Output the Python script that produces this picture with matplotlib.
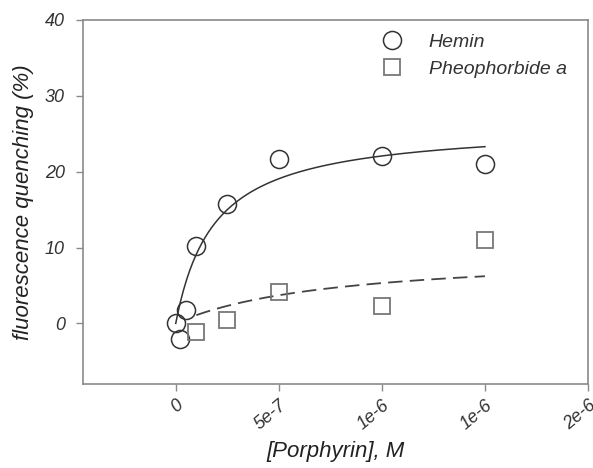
import matplotlib.pyplot as plt
import numpy as np

# data (x in M, y in %)
hemin_x = [0, 2e-8, 5e-8, 1e-7, 2.5e-7, 5e-7, 1e-6, 1.5e-6]
hemin_y = [0, -2.0, 1.8, 10.2, 15.8, 21.7, 22.1, 21.0]
pheo_x = [1e-7, 2.5e-7, 5e-7, 1e-6, 1.5e-6]
pheo_y = [-1.2, 0.5, 4.1, 2.3, 11.0]

# one-site binding fit parameters (Bmax, Kd)
hemin_fit = (26.2, 1.87e-7)
pheo_fit = (9.4, 7.7e-7)

xtick_pos = [0, 5e-7, 1e-6, 1.5e-6, 2e-6]
xtick_labels = ['0', '5e-7', '1e-6', '1e-6', '2e-6']
ytick_pos = [0, 10, 20, 30, 40]

plt.rcParams['font.family'] = ['Liberation Sans', 'DejaVu Sans']
plt.rcParams['font.style'] = 'italic'

fig = plt.figure(figsize=(5.93, 4.68), dpi=100)
ax = fig.add_axes([83 / 593, 1 - 384 / 468, 505 / 593, 364 / 468])

xs = np.linspace(0, 1.5e-6, 200)
ax.plot(xs, hemin_fit[0] * xs / (hemin_fit[1] + xs), color='#333333', lw=1.1)
xs2 = np.linspace(1e-7, 1.5e-6, 200)
ax.plot(xs2, pheo_fit[0] * xs2 / (pheo_fit[1] + xs2), color='#444444', lw=1.3,
        dashes=(8, 4))

ax.plot(hemin_x, hemin_y, 'o', ms=13, mfc='none', mec='#333333', mew=1.1,
        ls='none', label='Hemin')
ax.plot(pheo_x, pheo_y, 's', ms=11, mfc='none', mec='#777777', mew=1.3,
        ls='none', label='Pheophorbide a')

ax.set_xlim(-4.5e-7, 2e-6)
ax.set_ylim(-8, 40)
ax.set_xticks(xtick_pos)
ax.set_xticklabels(xtick_labels, rotation=40, ha='right', rotation_mode='anchor')
ax.set_yticks(ytick_pos)

for s in ax.spines.values():
    s.set_color('#8a8a8a')
    s.set_linewidth(1.2)
ax.tick_params(direction='out', length=5, color='#8a8a8a', labelsize=13,
               labelcolor='#333333', width=1)
ax.tick_params(axis='x', pad=4)
ax.tick_params(axis='y', pad=8)

ax.set_xlabel('[Porphyrin], M', fontsize=16, color='#222222', labelpad=6)
ax.set_ylabel('fluorescence quenching (%)', fontsize=16, color='#222222',
              labelpad=8)

ax.legend(loc='upper right', bbox_to_anchor=(0.985, 1.0), frameon=False,
          handletextpad=0.9, labelspacing=0.45, borderaxespad=0.3,
          prop={'style': 'italic', 'size': 14})
for t in ax.get_legend().get_texts():
    t.set_color('#333333')

fig.savefig('out.png', dpi=100)
